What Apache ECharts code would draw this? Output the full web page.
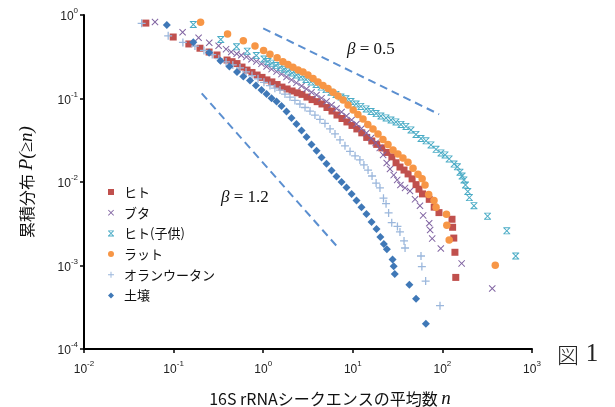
<!DOCTYPE html>
<html>
<head>
<meta charset="utf-8">
<script src="https://cdn.jsdelivr.net/npm/echarts@6/dist/echarts.min.js"></script>
<style>
html, body { margin: 0; padding: 0; background: #fff; }
#chart { width: 615px; height: 407px; }
</style>
</head>
<body>
<div id="chart"></div>
<script>
// axis ranges (decades)
var xTicks = [0.01, 0.1, 1, 10, 100, 1000];
var yTicks = [0.0001, 0.001, 0.01, 0.1, 1];

var seriesNames = ['ヒト', 'ブタ', 'ヒト(子供)', 'ラット', 'オランウータン', '土壌'];

// [平均数 n, P(≥n)]
var human = [[0.049,0.80],[0.099,0.545],[0.148,0.45],[0.197,0.40],[0.249,0.36],[0.305,0.332],[0.395,0.289],[0.449,0.276],[0.51,0.262],[0.58,0.238],[0.66,0.219],[0.75,0.205],[0.855,0.191],[0.97,0.179],[1.10,0.167],[1.25,0.158],[1.43,0.147],[1.62,0.137],[1.85,0.13],[2.10,0.123],[2.40,0.117],[2.71,0.112],[3.08,0.104],[3.51,0.097],[4.0,0.0917],[4.53,0.086],[5.15,0.078],[5.86,0.0708],[6.66,0.0634],[7.58,0.0576],[8.6,0.0524],[9.8,0.0476],[11.1,0.0432],[12.6,0.0388],[14.3,0.0342],[16.3,0.031],[18.5,0.0282],[21.1,0.0256],[24.0,0.0226],[27.3,0.020],[30.4,0.017],[33.6,0.0151],[37.3,0.0139],[41.4,0.0125],[45.9,0.0109],[50.8,0.0093],[54.8,0.0082],[60,0.0072],[71.3,0.0062],[81,0.0050],[91.6,0.0043],[128,0.00358],[130,0.00287],[134,0.00213],[138,0.00144],[141,0.00072]];

var pig = [[0.062,0.826],[0.126,0.622],[0.19,0.534],[0.25,0.466],[0.318,0.428],[0.385,0.39],[0.44,0.361],[0.506,0.343],[0.57,0.329],[0.65,0.315],[0.74,0.295],[0.84,0.278],[0.957,0.26],[1.09,0.242],[1.24,0.225],[1.41,0.21],[1.6,0.196],[1.82,0.181],[2.07,0.167],[2.35,0.154],[2.68,0.141],[3.04,0.13],[3.46,0.119],[3.94,0.110],[4.48,0.101],[5.09,0.092],[5.79,0.0836],[6.58,0.0759],[7.49,0.069],[8.5,0.0617],[9.7,0.0553],[11.0,0.0496],[12.5,0.0438],[14.2,0.0387],[16.0,0.0337],[18.0,0.0294],[20.0,0.0256],[21.8,0.0211],[23.9,0.0169],[26.0,0.0143],[28.6,0.0121],[31.3,0.0106],[34.0,0.0092],[38.3,0.0085],[43.5,0.0078],[49.5,0.0062],[56.2,0.0052],[61.0,0.00398],[71.2,0.0032],[73.0,0.00266],[76.9,0.0021],[96,0.0016],[164,0.00106],[360,0.00053]];

var child = [[0.166,0.77],[0.336,0.509],[0.504,0.416],[0.664,0.369],[0.838,0.327],[1.02,0.297],[1.13,0.277],[1.25,0.265],[1.39,0.248],[1.54,0.236],[1.71,0.224],[1.89,0.213],[2.10,0.202],[2.35,0.191],[2.64,0.181],[3.0,0.169],[3.42,0.158],[3.89,0.147],[4.42,0.137],[5.02,0.128],[5.7,0.119],[6.49,0.112],[7.38,0.104],[8.4,0.099],[9.55,0.092],[10.9,0.0859],[12.3,0.0804],[14.1,0.075],[16.0,0.0699],[18.2,0.066],[20.6,0.0617],[23.5,0.0585],[26.7,0.0553],[30.3,0.0524],[34.5,0.0489],[39.2,0.0463],[44.6,0.042],[50.7,0.0371],[57.7,0.0332],[65.6,0.0311],[74.6,0.0278],[84.9,0.0246],[96.5,0.0223],[107,0.0211],[119,0.0189],[135,0.0164],[147,0.0152],[157,0.0131],[166,0.0118],[174,0.0106],[181,0.0092],[192,0.0077],[200,0.0065],[225,0.0052],[319,0.0039],[523,0.0026],[658,0.0013]];

var rat = [[0.200,0.82],[0.40,0.593],[0.60,0.492],[0.81,0.425],[1.01,0.376],[1.19,0.339],[1.43,0.308],[1.66,0.276],[1.89,0.256],[2.15,0.236],[2.45,0.219],[2.78,0.208],[3.16,0.191],[3.6,0.174],[4.09,0.158],[4.65,0.143],[5.29,0.132],[6.02,0.119],[6.84,0.107],[7.8,0.096],[8.85,0.0836],[10.1,0.0728],[11.4,0.0643],[13.0,0.0569],[14.7,0.0489],[16.8,0.0432],[19.1,0.0377],[21.7,0.0323],[24.7,0.0282],[28.1,0.0242],[31.9,0.0217],[36.3,0.0194],[41.3,0.0172],[47.0,0.0146],[53.4,0.0124],[59.4,0.0109],[64,0.0092],[70.3,0.0071],[80.6,0.006],[84.9,0.0050],[111,0.0041],[112,0.00303],[119,0.00202],[389,0.00101]];

var orangutan = [[0.044,0.795],[0.087,0.564],[0.127,0.469],[0.173,0.425],[0.218,0.376],[0.27,0.336],[0.32,0.30],[0.385,0.274],[0.458,0.252],[0.551,0.232],[0.643,0.208],[0.75,0.188],[0.875,0.172],[1.02,0.156],[1.19,0.143],[1.35,0.133],[1.54,0.126],[1.75,0.113],[1.99,0.104],[2.26,0.0947],[2.57,0.0859],[2.93,0.078],[3.33,0.0708],[3.78,0.0634],[4.3,0.0561],[4.89,0.0503],[5.57,0.0432],[6.33,0.0377],[7.2,0.0319],[8.18,0.0271],[9.31,0.0232],[10.6,0.0206],[12.0,0.0184],[13.3,0.016],[14.8,0.0139],[16.4,0.0118],[18.2,0.0097],[20.1,0.0085],[22.0,0.0064],[23.5,0.0055],[25.1,0.00426],[27.2,0.00326],[31.5,0.00294],[33.6,0.00252],[37.3,0.00197],[38.3,0.00162],[57.7,0.0013],[59,0.00097],[65,0.00065],[94,0.00033]];

var soil = [[0.084,0.759],[0.166,0.472],[0.249,0.354],[0.333,0.283],[0.419,0.241],[0.51,0.208],[0.60,0.183],[0.712,0.164],[0.83,0.143],[0.957,0.126],[1.09,0.113],[1.24,0.101],[1.41,0.092],[1.6,0.0814],[1.82,0.0699],[2.07,0.0584],[2.35,0.0496],[2.68,0.0414],[3.05,0.0347],[3.46,0.0282],[3.94,0.0236],[4.48,0.0197],[5.09,0.0165],[5.79,0.0137],[6.58,0.0116],[7.49,0.0100],[8.5,0.0086],[9.7,0.0072],[11.0,0.006],[12.5,0.005],[14.2,0.00415],[16.2,0.00332],[18.4,0.00274],[20.3,0.0022],[22.2,0.00181],[24.0,0.00157],[27.8,0.00118],[28.6,0.00098],[29.4,0.00079],[42.8,0.00059],[50.8,0.0004],[65.4,0.0002]];

// reference slopes (dashed guides)
var guide05 = [[1.0, 0.693], [91.9, 0.0647]];
var guide12 = [[0.206, 0.115], [6.61, 0.00171]];

var myChart = echarts.init(document.getElementById('chart'), null, { renderer: 'canvas' });

var XMARK = 'path://M1,0L5,4L9,0L10,1L6,5L10,9L9,10L5,6L1,10L0,9L4,5L0,1Z';
var STAR = 'path://M0,0H10V1.3H0ZM0,8.7H10V10H0ZM1,0L5,4L9,0L10,1L6,5L10,9L9,10L5,6L1,10L0,9L4,5L0,1Z';
var PLUS = 'path://M4.2,0H5.8V4.2H10V5.8H5.8V10H4.2V5.8H0V4.2H4.2Z';

var sansJP = '"Noto Sans CJK JP", "Noto Sans", sans-serif';
var serif = '"Liberation Serif", "DejaVu Serif", serif';

function powLabel(v) {
    var e = Math.round(Math.log(v) / Math.LN10);
    return '{b|10}{s|' + e + '}';
}
var tickRich = {
    b: { fontSize: 12, fontFamily: '"Liberation Sans", Arial, sans-serif', color: '#222', lineHeight: 16, verticalAlign: 'bottom' },
    s: { fontSize: 8, fontFamily: '"Liberation Sans", Arial, sans-serif', color: '#222', lineHeight: 16, verticalAlign: 'top' }
};

function scatter(name, data, symbol, size, color) {
    return {
        name: name,
        type: 'scatter',
        data: data,
        symbol: symbol,
        symbolSize: size,
        itemStyle: { color: color, opacity: 1 },
        emphasis: { disabled: true },
        silent: true
    };
}

function guide(data) {
    return {
        type: 'line',
        data: data,
        symbol: 'none',
        silent: true,
        lineStyle: { color: '#5b8fd0', width: 2, type: [8, 5] },
        z: 1
    };
}

var option = {
    animation: false,
    backgroundColor: '#fff',
    grid: { left: 84, right: 83, top: 15, bottom: 58, outerBoundsMode: 'none', containLabel: false },
    legend: {
        data: seriesNames,
        orient: 'vertical',
        left: 103,
        top: 180,
        itemWidth: 6,
        itemHeight: 6,
        itemGap: 6.7,
        textStyle: { fontFamily: sansJP, fontSize: 13, color: '#111', lineHeight: 14, padding: [0, 0, 0, 5] }
    },
    xAxis: {
        type: 'log',
        logBase: 10,
        min: xTicks[0],
        max: xTicks[xTicks.length - 1],
        axisLine: { show: true, onZero: false, lineStyle: { color: '#000', width: 2 } },
        axisTick: { show: true, length: 4, lineStyle: { color: '#000', width: 1.5 } },
        minorTick: { show: false },
        splitLine: { show: false },
        axisLabel: { margin: 11, formatter: powLabel, rich: tickRich },
        name: '{a|16S rRNAシークエンスの平均数 }{b|n}',
        nameLocation: 'middle',
        nameGap: 40,
        nameTextStyle: {
            padding: [0, 0, 0, 44],
            rich: {
                a: { fontFamily: sansJP, fontSize: 16, color: '#111' },
                b: { fontFamily: serif, fontStyle: 'italic', fontSize: 19, color: '#111' }
            }
        }
    },
    yAxis: {
        type: 'log',
        logBase: 10,
        min: yTicks[0],
        max: yTicks[yTicks.length - 1],
        axisLine: { show: true, onZero: false, lineStyle: { color: '#000', width: 2 } },
        axisTick: { show: true, length: 4, lineStyle: { color: '#000', width: 1.5 } },
        minorTick: { show: false },
        splitLine: { show: false },
        axisLabel: { margin: 6, formatter: powLabel, rich: tickRich },
        name: '{a|累積分布 }{b|P(≥n)}',
        nameLocation: 'middle',
        nameGap: 48,
        nameRotate: 90,
        nameTextStyle: {
            rich: {
                a: { fontFamily: sansJP, fontSize: 16, color: '#111' },
                b: { fontFamily: serif, fontStyle: 'italic', fontSize: 19, color: '#111' }
            }
        }
    },
    graphic: [
        { type: 'text', left: 347, top: 41, style: { rich: {
            g: { fontFamily: serif, fontStyle: 'italic', fontSize: 17, fill: '#111' },
            t: { fontFamily: serif, fontSize: 17, fill: '#111' } }, text: '{g|β}{t| = 0.5}' } },
        { type: 'text', left: 221, top: 189, style: { rich: {
            g: { fontFamily: serif, fontStyle: 'italic', fontSize: 17, fill: '#111' },
            t: { fontFamily: serif, fontSize: 17, fill: '#111' } }, text: '{g|β}{t| = 1.2}' } },
        { type: 'text', left: 557, top: 342, style: { rich: {
            k: { fontFamily: sansJP, fontSize: 22, fill: '#222', fontWeight: 300 },
            d: { fontFamily: serif, fontSize: 25, fill: '#222' } }, text: '{k|図}  {d|1}' } }
    ],
    series: [
        guide(guide05),
        guide(guide12),
        scatter(seriesNames[0], human, 'rect', 7, '#c0504d'),
        scatter(seriesNames[1], pig, XMARK, 7, '#8064a2'),
        scatter(seriesNames[2], child, STAR, 7, '#4bacc6'),
        scatter(seriesNames[3], rat, 'circle', 7.5, '#f79646'),
        scatter(seriesNames[4], orangutan, PLUS, 8, '#9bb7dc'),
        scatter(seriesNames[5], soil, 'diamond', 8, '#3f78b7')
    ]
};

myChart.setOption(option);

window.onresize = function () {
    myChart.resize();
};
</script>
</body>
</html>
